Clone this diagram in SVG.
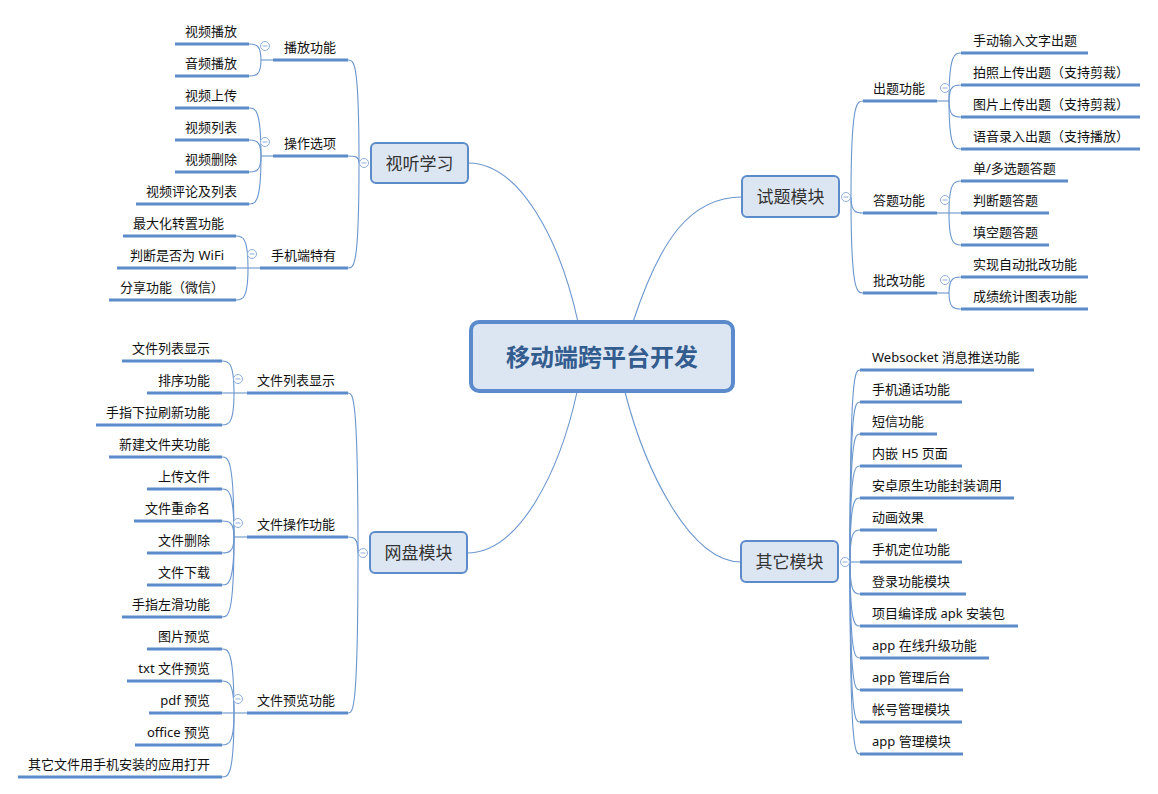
<svg xmlns="http://www.w3.org/2000/svg" width="1158" height="794" viewBox="0 0 1158 794">
<style>
text{font-family:"Noto Sans","Noto Sans CJK SC",sans-serif;fill:#111}
.lf{font-size:13px}
.l{text-anchor:end}
.mt{font-size:17px;fill:#333;text-anchor:middle}
.ct{font-size:24px;font-weight:bold;fill:#335c8f;text-anchor:middle}
.ul{stroke:#5b8bc9;stroke-width:3;stroke-linecap:butt}
.cn{fill:none;stroke:#6b96cd;stroke-width:1.1}
.nd{fill:#dce6f2;stroke:#5b8bc9;stroke-width:2}
.cc{fill:#fff;stroke:#8eaedb;stroke-width:1}
.cm{stroke:#8eaedb;stroke-width:1}
</style>
<rect width="1158" height="794" fill="#fff"/>
<g id="connectors">
<path class="cn" d="M578 322 C560 240 520 163 468 163"/>
<path class="cn" d="M633 322 C660 240 690 197 742 197"/>
<path class="cn" d="M577 392 C560 470 520 553 467 553"/>
<path class="cn" d="M625 392 C645 470 690 562 741 562"/>
<path class="cn" d="M359 163 C359 60 354 60 348 60"/>
<path class="cn" d="M359 163 C359 156 354 156 348 156"/>
<path class="cn" d="M359 163 C359 268 354 268 348 268"/>
<path class="cn" d="M273 60 L261 60"/>
<path class="cn" d="M261 60 C261 44 255 44 249 44"/>
<path class="cn" d="M261 60 C261 76 255 76 249 76"/>
<path class="cn" d="M273 156 L261 156"/>
<path class="cn" d="M261 156 C261 108 255 108 249 108"/>
<path class="cn" d="M261 156 C261 140 255 140 249 140"/>
<path class="cn" d="M261 156 C261 172 255 172 249 172"/>
<path class="cn" d="M261 156 C261 204 255 204 249 204"/>
<path class="cn" d="M260 268 L248 268"/>
<path class="cn" d="M248 268 C248 236 242 236 236 236"/>
<path class="cn" d="M248 268 L236 268"/>
<path class="cn" d="M248 268 C248 300 242 300 236 300"/>
<path class="cn" d="M358 553 C358 393 353 393 348 393"/>
<path class="cn" d="M358 553 C358 537 353 537 348 537"/>
<path class="cn" d="M358 553 C358 713 353 713 348 713"/>
<path class="cn" d="M247 393 L234 393"/>
<path class="cn" d="M234 393 C234 361 228 361 222 361"/>
<path class="cn" d="M234 393 L222 393"/>
<path class="cn" d="M234 393 C234 425 228 425 222 425"/>
<path class="cn" d="M247 537 L234 537"/>
<path class="cn" d="M234 537 C234 457 228 457 222 457"/>
<path class="cn" d="M234 537 C234 489 228 489 222 489"/>
<path class="cn" d="M234 537 C234 521 228 521 222 521"/>
<path class="cn" d="M234 537 C234 553 228 553 222 553"/>
<path class="cn" d="M234 537 C234 585 228 585 222 585"/>
<path class="cn" d="M234 537 C234 617 228 617 222 617"/>
<path class="cn" d="M247 713 L234 713"/>
<path class="cn" d="M234 713 C234 649 228 649 222 649"/>
<path class="cn" d="M234 713 C234 681 228 681 222 681"/>
<path class="cn" d="M234 713 L222 713"/>
<path class="cn" d="M234 713 C234 745 228 745 222 745"/>
<path class="cn" d="M234 713 C234 777 228 777 222 777"/>
<path class="cn" d="M851 197 C851 101 857 101 863 101"/>
<path class="cn" d="M851 197 C851 213 857 213 863 213"/>
<path class="cn" d="M851 197 C851 293 857 293 863 293"/>
<path class="cn" d="M937 101 L949 101"/>
<path class="cn" d="M949 101 C949 53 955 53 961 53"/>
<path class="cn" d="M949 101 C949 85 955 85 961 85"/>
<path class="cn" d="M949 101 C949 117 955 117 961 117"/>
<path class="cn" d="M949 101 C949 149 955 149 961 149"/>
<path class="cn" d="M937 213 L949 213"/>
<path class="cn" d="M949 213 C949 181 955 181 961 181"/>
<path class="cn" d="M949 213 L961 213"/>
<path class="cn" d="M949 213 C949 245 955 245 961 245"/>
<path class="cn" d="M937 293 L949 293"/>
<path class="cn" d="M949 293 C949 277 955 277 961 277"/>
<path class="cn" d="M949 293 C949 309 955 309 961 309"/>
<path class="cn" d="M850 562 C850 370 855 370 860 370"/>
<path class="cn" d="M850 562 C850 402 855 402 860 402"/>
<path class="cn" d="M850 562 C850 434 855 434 860 434"/>
<path class="cn" d="M850 562 C850 466 855 466 860 466"/>
<path class="cn" d="M850 562 C850 498 855 498 860 498"/>
<path class="cn" d="M850 562 C850 530 855 530 860 530"/>
<path class="cn" d="M850 562 L860 562"/>
<path class="cn" d="M850 562 C850 594 855 594 860 594"/>
<path class="cn" d="M850 562 C850 626 855 626 860 626"/>
<path class="cn" d="M850 562 C850 658 855 658 860 658"/>
<path class="cn" d="M850 562 C850 690 855 690 860 690"/>
<path class="cn" d="M850 562 C850 722 855 722 860 722"/>
<path class="cn" d="M850 562 C850 754 855 754 860 754"/>
</g>

<g id="center">
<rect x="471" y="322" width="262" height="69" rx="8" fill="#dce6f2" stroke="#5b8bcc" stroke-width="4"/>
<text class="ct" x="602" y="366">移动端跨平台开发</text>
</g>

<g id="n-shiting">
<rect class="nd" x="371" y="143" width="97" height="40" rx="5"/>
<text class="mt" x="419.5" y="170">视听学习</text>
<circle class="cc" cx="364" cy="163" r="4.5"/><line class="cm" x1="361.5" y1="163" x2="366.5" y2="163"/>
</g>
<g id="n-bofang">
<line class="ul" x1="273" y1="60" x2="348" y2="60"/>
<text class="lf l" x="336" y="52">播放功能</text>
<circle class="cc" cx="265" cy="46" r="4.5"/><line class="cm" x1="262.5" y1="46" x2="267.5" y2="46"/>
</g>
<g id="n-caozuo">
<line class="ul" x1="273" y1="156" x2="348" y2="156"/>
<text class="lf l" x="336" y="148">操作选项</text>
<circle class="cc" cx="265" cy="142" r="4.5"/><line class="cm" x1="262.5" y1="142" x2="267.5" y2="142"/>
</g>
<g id="n-shouji">
<line class="ul" x1="260" y1="268" x2="348" y2="268"/>
<text class="lf l" x="336" y="260">手机端特有</text>
<circle class="cc" cx="252" cy="254" r="4.5"/><line class="cm" x1="249.5" y1="254" x2="254.5" y2="254"/>
</g>
<g id="l-a1"><line class="ul" x1="175" y1="44" x2="249" y2="44"/><text class="lf l" x="237" y="36">视频播放</text></g>
<g id="l-a2"><line class="ul" x1="175" y1="76" x2="249" y2="76"/><text class="lf l" x="237" y="68">音频播放</text></g>
<g id="l-a3"><line class="ul" x1="175" y1="108" x2="249" y2="108"/><text class="lf l" x="237" y="100">视频上传</text></g>
<g id="l-a4"><line class="ul" x1="175" y1="140" x2="249" y2="140"/><text class="lf l" x="237" y="132">视频列表</text></g>
<g id="l-a5"><line class="ul" x1="175" y1="172" x2="249" y2="172"/><text class="lf l" x="237" y="164">视频删除</text></g>
<g id="l-a6"><line class="ul" x1="136" y1="204" x2="249" y2="204"/><text class="lf l" x="237" y="196">视频评论及列表</text></g>
<g id="l-a7"><line class="ul" x1="123" y1="236" x2="236" y2="236"/><text class="lf l" x="224" y="228">最大化转置功能</text></g>
<g id="l-a8"><line class="ul" x1="117" y1="268" x2="236" y2="268"/><text class="lf l" x="224" y="260">判断是否为 WiFi</text></g>
<g id="l-a9"><line class="ul" x1="109" y1="300" x2="236" y2="300"/><text class="lf l" x="224" y="292">分享功能（微信）</text></g>

<g id="n-wangpan">
<rect class="nd" x="370" y="532" width="97" height="41" rx="5"/>
<text class="mt" x="418.5" y="559">网盘模块</text>
<circle class="cc" cx="363" cy="553" r="4.5"/><line class="cm" x1="360.5" y1="553" x2="365.5" y2="553"/>
</g>
<g id="n-wjlb">
<line class="ul" x1="247" y1="393" x2="348" y2="393"/>
<text class="lf l" x="335" y="385">文件列表显示</text>
<circle class="cc" cx="238" cy="379" r="4.5"/><line class="cm" x1="235.5" y1="379" x2="240.5" y2="379"/>
</g>
<g id="n-wjcz">
<line class="ul" x1="247" y1="537" x2="348" y2="537"/>
<text class="lf l" x="335" y="529">文件操作功能</text>
<circle class="cc" cx="238" cy="523" r="4.5"/><line class="cm" x1="235.5" y1="523" x2="240.5" y2="523"/>
</g>
<g id="n-wjyl">
<line class="ul" x1="247" y1="713" x2="348" y2="713"/>
<text class="lf l" x="335" y="705">文件预览功能</text>
<circle class="cc" cx="238" cy="699" r="4.5"/><line class="cm" x1="235.5" y1="699" x2="240.5" y2="699"/>
</g>
<g id="l-b1"><line class="ul" x1="122" y1="361" x2="222" y2="361"/><text class="lf l" x="210" y="353">文件列表显示</text></g>
<g id="l-b2"><line class="ul" x1="147" y1="393" x2="222" y2="393"/><text class="lf l" x="210" y="385">排序功能</text></g>
<g id="l-b3"><line class="ul" x1="96" y1="425" x2="222" y2="425"/><text class="lf l" x="210" y="417">手指下拉刷新功能</text></g>
<g id="l-b4"><line class="ul" x1="109" y1="457" x2="222" y2="457"/><text class="lf l" x="210" y="449">新建文件夹功能</text></g>
<g id="l-b5"><line class="ul" x1="147" y1="489" x2="222" y2="489"/><text class="lf l" x="210" y="481">上传文件</text></g>
<g id="l-b6"><line class="ul" x1="134" y1="521" x2="222" y2="521"/><text class="lf l" x="210" y="513">文件重命名</text></g>
<g id="l-b7"><line class="ul" x1="147" y1="553" x2="222" y2="553"/><text class="lf l" x="210" y="545">文件删除</text></g>
<g id="l-b8"><line class="ul" x1="147" y1="585" x2="222" y2="585"/><text class="lf l" x="210" y="577">文件下载</text></g>
<g id="l-b9"><line class="ul" x1="122" y1="617" x2="222" y2="617"/><text class="lf l" x="210" y="609">手指左滑功能</text></g>
<g id="l-b10"><line class="ul" x1="147" y1="649" x2="222" y2="649"/><text class="lf l" x="210" y="641">图片预览</text></g>
<g id="l-b11"><line class="ul" x1="127" y1="681" x2="222" y2="681"/><text class="lf l" x="210" y="673">txt 文件预览</text></g>
<g id="l-b12"><line class="ul" x1="149" y1="713" x2="222" y2="713"/><text class="lf l" x="210" y="705">pdf 预览</text></g>
<g id="l-b13"><line class="ul" x1="135" y1="745" x2="222" y2="745"/><text class="lf l" x="210" y="737">office 预览</text></g>
<g id="l-b14"><line class="ul" x1="18" y1="777" x2="222" y2="777"/><text class="lf l" x="210" y="769">其它文件用手机安装的应用打开</text></g>

<g id="n-shiti">
<rect class="nd" x="742" y="176" width="97" height="41" rx="5"/>
<text class="mt" x="790.5" y="203">试题模块</text>
<circle class="cc" cx="846" cy="197" r="4.5"/><line class="cm" x1="843.5" y1="197" x2="848.5" y2="197"/>
</g>
<g id="n-chuti">
<line class="ul" x1="863" y1="101" x2="937" y2="101"/>
<text class="lf" x="873" y="93">出题功能</text>
<circle class="cc" cx="945" cy="88" r="4.5"/><line class="cm" x1="942.5" y1="88" x2="947.5" y2="88"/>
</g>
<g id="n-dati">
<line class="ul" x1="863" y1="213" x2="937" y2="213"/>
<text class="lf" x="873" y="205">答题功能</text>
<circle class="cc" cx="945" cy="200" r="4.5"/><line class="cm" x1="942.5" y1="200" x2="947.5" y2="200"/>
</g>
<g id="n-pigai">
<line class="ul" x1="863" y1="293" x2="937" y2="293"/>
<text class="lf" x="873" y="285">批改功能</text>
<circle class="cc" cx="945" cy="280" r="4.5"/><line class="cm" x1="942.5" y1="280" x2="947.5" y2="280"/>
</g>
<g id="l-c1"><line class="ul" x1="961" y1="53" x2="1088" y2="53"/><text class="lf" x="973" y="45">手动输入文字出题</text></g>
<g id="l-c2"><line class="ul" x1="961" y1="85" x2="1140" y2="85"/><text class="lf" x="973" y="77">拍照上传出题（支持剪裁）</text></g>
<g id="l-c3"><line class="ul" x1="961" y1="117" x2="1140" y2="117"/><text class="lf" x="973" y="109">图片上传出题（支持剪裁）</text></g>
<g id="l-c4"><line class="ul" x1="961" y1="149" x2="1140" y2="149"/><text class="lf" x="973" y="141">语音录入出题（支持播放）</text></g>
<g id="l-c5"><line class="ul" x1="961" y1="181" x2="1068" y2="181"/><text class="lf" x="973" y="173">单/多选题答题</text></g>
<g id="l-c6"><line class="ul" x1="961" y1="213" x2="1049" y2="213"/><text class="lf" x="973" y="205">判断题答题</text></g>
<g id="l-c7"><line class="ul" x1="961" y1="245" x2="1049" y2="245"/><text class="lf" x="973" y="237">填空题答题</text></g>
<g id="l-c8"><line class="ul" x1="961" y1="277" x2="1088" y2="277"/><text class="lf" x="973" y="269">实现自动批改功能</text></g>
<g id="l-c9"><line class="ul" x1="961" y1="309" x2="1088" y2="309"/><text class="lf" x="973" y="301">成绩统计图表功能</text></g>

<g id="n-qita">
<rect class="nd" x="741" y="541" width="97" height="41" rx="5"/>
<text class="mt" x="789.5" y="568">其它模块</text>
<circle class="cc" cx="845" cy="562" r="4.5"/><line class="cm" x1="842.5" y1="562" x2="847.5" y2="562"/>
</g>
<g id="l-d1"><line class="ul" x1="860" y1="370" x2="1034" y2="370"/><text class="lf" x="872" y="362">Websocket 消息推送功能</text></g>
<g id="l-d2"><line class="ul" x1="860" y1="402" x2="962" y2="402"/><text class="lf" x="872" y="394">手机通话功能</text></g>
<g id="l-d3"><line class="ul" x1="860" y1="434" x2="937" y2="434"/><text class="lf" x="872" y="426">短信功能</text></g>
<g id="l-d4"><line class="ul" x1="860" y1="466" x2="962" y2="466"/><text class="lf" x="872" y="458">内嵌 H5 页面</text></g>
<g id="l-d5"><line class="ul" x1="860" y1="498" x2="1014" y2="498"/><text class="lf" x="872" y="490">安卓原生功能封装调用</text></g>
<g id="l-d6"><line class="ul" x1="860" y1="530" x2="937" y2="530"/><text class="lf" x="872" y="522">动画效果</text></g>
<g id="l-d7"><line class="ul" x1="860" y1="562" x2="962" y2="562"/><text class="lf" x="872" y="554">手机定位功能</text></g>
<g id="l-d8"><line class="ul" x1="860" y1="594" x2="966" y2="594"/><text class="lf" x="872" y="586">登录功能模块</text></g>
<g id="l-d9"><line class="ul" x1="860" y1="626" x2="1018" y2="626"/><text class="lf" x="872" y="618">项目编译成 apk 安装包</text></g>
<g id="l-d10"><line class="ul" x1="860" y1="658" x2="989" y2="658"/><text class="lf" x="872" y="650">app 在线升级功能</text></g>
<g id="l-d11"><line class="ul" x1="860" y1="690" x2="963" y2="690"/><text class="lf" x="872" y="682">app 管理后台</text></g>
<g id="l-d12"><line class="ul" x1="860" y1="722" x2="962" y2="722"/><text class="lf" x="872" y="714">帐号管理模块</text></g>
<g id="l-d13"><line class="ul" x1="860" y1="754" x2="963" y2="754"/><text class="lf" x="872" y="746">app 管理模块</text></g>
</svg>
